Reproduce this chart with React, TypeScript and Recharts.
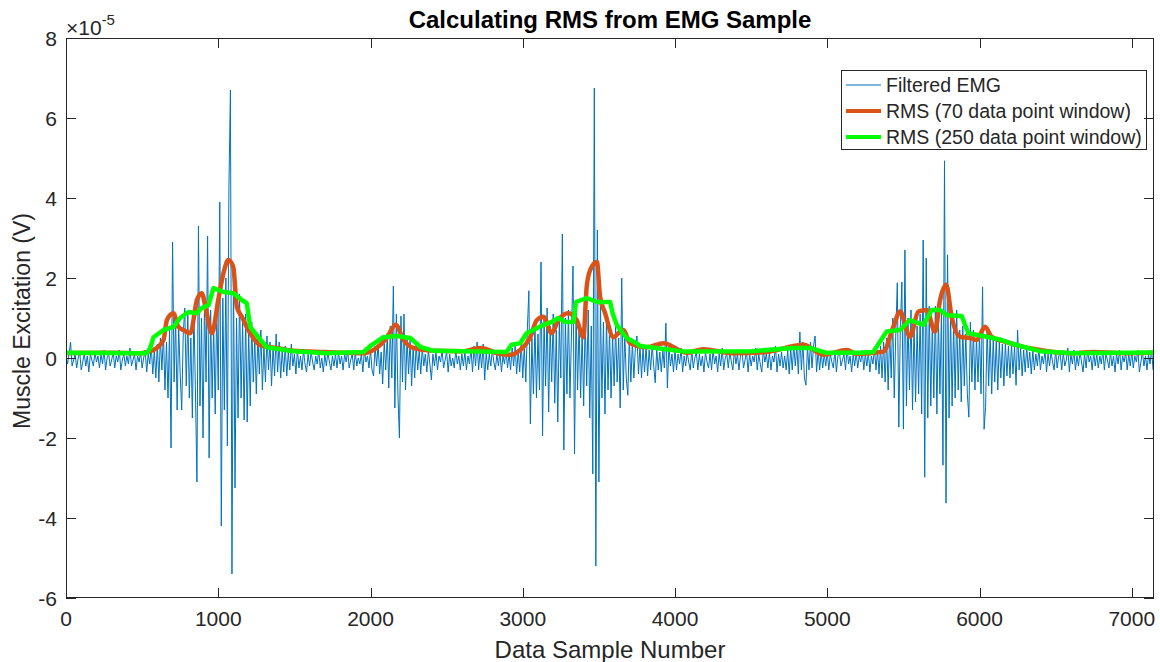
import React from 'react';
import { LineChart, Line, XAxis, YAxis, Legend } from 'recharts';

// Filtered EMG, one value every SAMPLE_STEP samples (units of 1e-5 V)
const SAMPLE_STEP = 10;
const emgValues = [
  0.05, -0.15, 0.1, 0.4, -0.2, -0.05, 0.1, -0.25, 0.0, 0.15, -0.3, -0.1, 0.1, -0.2, 0.05, -0.35, 0.1, -0.05, -0.2, 0.15,
  -0.1, 0.05, -0.25, 0.1, -0.15, 0.2, -0.3, 0.0, 0.1, -0.2, -0.05, 0.15, -0.25, 0.05, -0.1, 0.2, -0.3, -0.05, 0.1, -0.2,
  0.05, -0.15, 0.25, -0.2, -0.05, 0.1, -0.3, 0.05, -0.1, 0.15, -0.25, 0.0, 0.2, -0.35, 0.1, -0.15, 0.3, -0.4, 0.2, -0.5,
  0.35, -0.6, 0.5, -0.3, 0.6, -0.8, 0.4, -1.0, 0.7, -2.25, 2.9, -0.6, 1.0, -1.3, 0.8, -0.4, -1.3, 0.6, 1.25, -0.7,
  1.1, -1.0, 0.5, -1.5, 1.2, -0.8, -3.1, 3.3, -1.2, 1.0, -2.0, 1.5, -0.6, 3.05, -2.5, 1.2, -1.0, 0.8, -1.4, 1.3,
  -0.8, 3.9, -4.2, 1.5, -1.3, 2.0, -2.2, 4.25, 6.7, -5.4, 2.2, -3.25, 1.0, -1.5, 1.6, -1.0, 0.9, -1.55, 1.1, -1.6,
  0.7, -1.2, 0.9, -0.6, 0.5, -0.9, 0.6, -0.4, 0.7, -0.8, 0.3, -0.6, 0.55, -0.3, 0.4, -0.7, 0.3, -0.45, 0.6, -0.35,
  0.4, -0.5, 0.2, -0.35, 0.3, -0.45, 0.15, -0.3, 0.35, -0.2, 0.1, -0.4, 0.2, -0.25, 0.05, -0.3, 0.2, -0.15, -0.35, 0.1,
  -0.2, 0.15, -0.1, -0.3, 0.05, -0.15, 0.2, -0.25, 0.0, -0.35, 0.1, -0.2, 0.15, -0.1, -0.3, 0.05, -0.2, 0.1, -0.25, 0.15,
  -0.15, 0.05, -0.3, 0.1, -0.1, 0.2, -0.25, -0.05, 0.1, -0.3, 0.15, -0.2, 0.0, -0.15, 0.1, -0.35, 0.2, -0.1, 0.05, -0.25,
  0.2, -0.3, -0.45, 0.3, -0.2, 0.35, -0.4, 0.15, -0.65, 0.4, -0.3, 0.6, -0.75, 0.8, -0.5, 1.8, -1.25, 1.1, -0.9, -2.0,
  1.05, -0.6, 1.1, -0.8, 0.5, -0.4, 0.45, -0.7, 0.3, -0.5, 0.35, -0.3, 0.2, -0.4, 0.25, -0.2, 0.1, -0.35, 0.2, -0.15,
  -0.55, 0.1, -0.2, 0.15, -0.3, 0.05, -0.1, 0.2, -0.25, -0.05, 0.15, -0.35, 0.1, -0.2, 0.0, -0.25, 0.2, -0.15, 0.05, -0.3,
  0.1, -0.2, 0.15, -0.3, 0.05, -0.15, 0.25, -0.35, 0.3, -0.2, 0.4, -0.3, 0.2, -0.25, 0.35, -0.55, 0.15, -0.3, 0.1, -0.2,
  0.2, -0.1, -0.3, 0.1, -0.2, 0.15, -0.35, 0.05, -0.15, 0.2, -0.25, 0.1, -0.3, 0.25, -0.2, 0.3, -0.4, 0.2, -0.35, 0.4,
  -0.5, 0.3, -0.6, 0.7, 1.68, -1.65, 0.5, -0.9, 0.9, -1.0, 0.6, -0.8, 2.4, -1.95, 1.0, -0.7, 1.25, -1.35, 0.8, -0.6,
  1.1, -1.13, 0.7, -1.6, 0.9, -0.5, 3.1, -2.3, 1.0, -0.9, 1.2, -1.0, 0.6, 2.3, -2.4, 1.2, -0.8, 0.9, -1.0, 0.7,
  -1.2, 1.0, -0.7, 1.2, -1.5, 0.8, -2.9, 6.75, -5.2, 3.2, -3.1, 1.4, -1.0, 0.9, -1.4, 1.0, -0.8, 0.7, -1.0, 0.6,
  -0.7, 0.8, -0.6, 0.5, -1.25, 2.0, -0.8, 0.6, -0.5, -0.93, 0.5, -0.6, 0.4, -0.5, 0.3, 0.55, -0.4, 0.3, -0.5, 0.25,
  -0.35, 0.3, -0.45, 0.2, -0.3, 0.35, -0.2, -0.62, 0.25, -0.3, 0.15, -0.35, 0.2, -0.25, 0.87, -0.75, 0.3, -0.2, 0.1, -0.35,
  0.2, -0.3, 0.1, -0.15, 0.25, -0.35, 0.05, -0.2, 0.15, -0.1, -0.3, 0.2, -0.25, 0.0, 0.15, -0.3, 0.1, -0.2, 0.05, -0.35,
  0.15, -0.1, -0.25, 0.1, -0.3, 0.2, -0.15, 0.05, -0.35, 0.1, -0.2, 0.25, -0.3, 0.0, 0.1, -0.25, 0.15, -0.1, -0.3, 0.2,
  -0.15, 0.1, -0.3, 0.05, 0.2, -0.25, -0.05, 0.15, -0.35, 0.1, -0.2, 0.05, -0.1, 0.25, -0.3, 0.1, -0.15, -0.35, 0.2, -0.1,
  0.1, -0.25, 0.15, -0.3, 0.05, -0.1, 0.3, -0.35, 0.1, -0.2, 0.15, -0.25, 0.05, -0.3, 0.2, -0.4, 0.25, -0.3, 0.35, -0.2,
  0.3, -0.4, 0.65, -0.3, 0.4, -0.5, -0.68, 0.3, -0.3, 0.4, -0.25, 0.3, 0.55, -0.35, 0.2, -0.3, 0.15, -0.25, 0.1, -0.2,
  0.15, -0.3, 0.1, -0.1, -0.25, 0.2, -0.35, 0.05, 0.15, -0.2, -0.05, 0.1, -0.3, 0.25, -0.15, 0.05, -0.35, 0.1, -0.2, 0.15,
  -0.25, 0.05, -0.1, 0.2, -0.3, 0.1, -0.2, 0.15, -0.35, 0.05, -0.15, 0.25, -0.3, 0.2, -0.4, 0.3, -0.5, 0.4, -0.6, 0.5,
  -0.8, 0.7, -0.5, 1.0, -1.0, 0.6, 1.88, -1.73, 0.8, 1.9, -1.78, 2.7, -1.2, 1.0, -0.8, 1.2, -1.3, 0.9, -1.1, 0.8,
  -0.9, 1.1, -1.4, 2.95, -2.98, 2.5, -1.5, 1.3, -1.2, 0.9, -1.0, 1.3, -1.4, 1.0, -0.9, 1.2, -2.68, 4.93, -3.63, 2.58,
  -1.5, 1.1, -1.2, 0.9, -1.0, 1.2, -0.8, 0.7, -1.1, 0.8, -0.7, 0.6, -0.9, -1.48, 0.9, -0.6, 0.7, -0.8, 0.5, -0.6,
  0.6, -0.9, 1.78, -1.78, -1.23, 0.8, -0.7, 0.6, -0.9, 0.5, -0.6, 0.45, -0.8, 0.4, -0.5, 0.35, -0.7, 0.4, -0.45, 0.3,
  -0.5, 0.35, -0.4, 0.3, -0.68, 0.7, -0.3, 0.25, -0.45, 0.2, -0.35, 0.3, -0.25, 0.15, -0.4, 0.2, -0.3, 0.1, -0.2, 0.25,
  -0.3, 0.05, -0.15, 0.2, -0.35, 0.1, -0.2, 0.15, -0.1, -0.3, 0.2, -0.25, 0.05, 0.1, -0.3, 0.15, -0.2, -0.05, 0.25, -0.35,
  0.1, -0.15, 0.2, -0.3, 0.05, -0.2, 0.15, -0.1, -0.35, 0.1, -0.25, 0.2, -0.1, 0.05, -0.3, 0.15, -0.2, 0.1, -0.25, 0.05,
  -0.15, 0.2, -0.3, 0.1, -0.05, -0.25, 0.15, -0.2, 0.05, -0.35, 0.1, -0.15, 0.2, -0.3, 0.05, -0.1, 0.15, -0.3, 0.1, -0.2,
  0.15, -0.25, 0.05, -0.1, 0.2, -0.35, -0.1, 0.15, -0.2, 0.05, -0.3, 0.1, -0.15, 0.2, -0.3,
];

// RMS, 70 data point window
const rms70Samples = [
  0, 300, 490, 575, 640, 663, 705, 738, 771, 817, 860, 892, 920, 958, 1000, 1033, 1066, 1099, 1122, 1155,
  1210, 1275, 1385, 1493, 1700, 1954, 2040, 2106, 2166, 2217, 2283, 2414, 2600, 2721, 2852, 2917, 2983,
  3049, 3093, 3136, 3190, 3234, 3300, 3354, 3398, 3420, 3443, 3487, 3508, 3541, 3596, 3628, 3661, 3705,
  3815, 3924, 4077, 4186, 4383, 4602, 4843, 4974, 5128, 5193, 5368, 5434, 5478, 5544, 5598, 5653, 5708,
  5741, 5781, 5817, 5872, 5938, 5981, 6036, 6080, 6178, 6244, 6397, 6616, 6747, 6944, 7146,
];
const rms70Values = [
  0.12, 0.13, 0.12, 0.2, 0.45, 0.95, 1.12, 0.78, 0.7, 0.62, 1.45, 1.62, 1.2, 0.62, 1.45, 2.1, 2.45, 2.27, 1.28, 1.03,
  0.62, 0.32, 0.25, 0.18, 0.15, 0.12, 0.25, 0.5, 0.83, 0.45, 0.25, 0.18, 0.17, 0.25, 0.1, 0.08, 0.2,
  0.52, 0.95, 1.03, 0.62, 0.95, 1.12, 0.95, 0.52, 1.78, 2.2, 2.4, 1.53, 1.12, 0.52, 0.62, 0.7, 0.37,
  0.27, 0.37, 0.13, 0.22, 0.12, 0.15, 0.33, 0.08, 0.2, 0.1, 0.16, 0.78, 1.16, 0.53, 1.16, 1.2, 0.66,
  1.45, 1.83, 1.03, 0.53, 0.5, 0.45, 0.78, 0.53, 0.4, 0.32, 0.2, 0.12, 0.15, 0.12, 0.13,
];

// RMS, 250 data point window
const rms250Samples = [
  0, 530, 553, 575, 640, 706, 750, 804, 860, 892, 936, 969, 1035, 1100, 1155, 1187, 1210, 1253, 1318, 1493,
  1714, 1954, 2009, 2085, 2172, 2261, 2327, 2414, 2894, 2926, 2983, 3025, 3070, 3136, 3190, 3234, 3278,
  3333, 3350, 3420, 3487, 3574, 3590, 3617, 3682, 3748, 3771, 4055, 4500, 4777, 4887, 4996, 5215, 5302,
  5390, 5478, 5544, 5631, 5686, 5741, 5785, 5883, 5926, 6047, 6146, 6200, 6397, 6616, 7146,
];
const rms250Values = [
  0.13, 0.12, 0.25, 0.52, 0.7, 0.78, 1.0, 1.15, 1.12, 1.25, 1.32, 1.75, 1.65, 1.62, 1.45, 1.37, 0.78, 0.57, 0.27, 0.17,
  0.12, 0.15, 0.33, 0.52, 0.55, 0.5, 0.28, 0.18, 0.15, 0.33, 0.37, 0.62, 0.7, 0.83, 0.9, 1.0, 0.9,
  0.9, 1.4, 1.5, 1.4, 1.4, 1.12, 0.83, 0.5, 0.37, 0.3, 0.16, 0.17, 0.25, 0.25, 0.13, 0.13, 0.15,
  0.66, 0.7, 0.95, 0.83, 1.2, 1.2, 1.07, 1.05, 0.62, 0.53, 0.45, 0.37, 0.17, 0.12, 0.14,
];

const xTicks = [0, 1000, 2000, 3000, 4000, 5000, 6000, 7000];
const yTicks = [-6, -4, -2, 0, 2, 4, 6, 8];
const X_MAX = 7146;
const Y_MIN = -6;
const Y_MAX = 8;

const seriesNames = ['Filtered EMG', 'RMS (70 data point window)', 'RMS (250 data point window)'];
const seriesColors = ['#0072BD', '#D95319', '#00FF00'];
const legendWidths = [1.2, 4, 4];

const emgData = emgValues.map((v, i) => ({ x: i * SAMPLE_STEP, emg: v }));
const rms70Data = rms70Samples.map((s, i) => ({ x: s, rms70: rms70Values[i] }));
const rms250Data = rms250Samples.map((s, i) => ({ x: s, rms250: rms250Values[i] }));

// layout (page pixels; body margin removed below)
const W = 1160;
const H = 662;
const PLOT = { left: 66, top: 38, right: 1154, bottom: 598 };
const INK = '#262626';
const FONT = '"Liberation Sans", Arial, Helvetica, sans-serif';
const TICK_LEN = 10;

const BottomTick = (props: any) => {
  const { x, y, payload } = props;
  return (
    <text x={x} y={y + 28} textAnchor="middle" fontSize={21} fill={INK} fontFamily={FONT}>
      {payload.value}
    </text>
  );
};

const LeftTick = (props: any) => {
  const { x, y, payload } = props;
  return (
    <text x={x - 9} y={y + 7.5} textAnchor="end" fontSize={21} fill={INK} fontFamily={FONT}>
      {payload.value}
    </text>
  );
};

// MATLAB-style box with inward tick marks on all four sides
const AxesBox = () => {
  const pw = PLOT.right - PLOT.left;
  const ph = PLOT.bottom - PLOT.top;
  const sx = (v: number) => PLOT.left + (v / X_MAX) * pw;
  const sy = (v: number) => PLOT.bottom - ((v - Y_MIN) / (Y_MAX - Y_MIN)) * ph;
  return (
    <svg width={W} height={H} style={{ position: 'absolute', left: 0, top: 0, pointerEvents: 'none' }}>
      <rect
        x={PLOT.left + 0.5}
        y={PLOT.top + 0.5}
        width={pw - 1}
        height={ph - 1}
        fill="none"
        stroke={INK}
        strokeWidth={1}
      />
      {xTicks.map((t) => {
        const x = Math.round(sx(t)) + 0.5;
        return (
          <g key={`x${t}`}>
            <line x1={x} x2={x} y1={PLOT.bottom} y2={PLOT.bottom - TICK_LEN} stroke={INK} />
            <line x1={x} x2={x} y1={PLOT.top} y2={PLOT.top + TICK_LEN} stroke={INK} />
          </g>
        );
      })}
      {yTicks.map((t) => {
        const y = Math.round(sy(t)) + 0.5;
        return (
          <g key={`y${t}`}>
            <line x1={PLOT.left} x2={PLOT.left + TICK_LEN} y1={y} y2={y} stroke={INK} />
            <line x1={PLOT.right} x2={PLOT.right - TICK_LEN} y1={y} y2={y} stroke={INK} />
          </g>
        );
      })}
    </svg>
  );
};

const LegendBox = () => (
  <div
    style={{
      width: 304,
      height: 77,
      border: `1px solid ${INK}`,
      background: '#fff',
      paddingTop: 1,
      boxSizing: 'content-box',
      fontFamily: FONT,
    }}
  >
    {seriesNames.map((name, i) => (
      <div key={name} style={{ height: 26, display: 'flex', alignItems: 'center' }}>
        <svg width={44} height={26} style={{ display: 'block' }}>
          <line x1={4} x2={39} y1={13} y2={13} stroke={seriesColors[i]} strokeWidth={legendWidths[i]} />
        </svg>
        <span style={{ fontSize: 19.5, color: INK, whiteSpace: 'nowrap' }}>{name}</span>
      </div>
    ))}
  </div>
);

export default function App() {
  return (
    <div
      style={{
        position: 'relative',
        width: W,
        height: H,
        overflow: 'hidden',
        fontFamily: FONT,
        background: '#fff',
      }}
    >
      <style>{'html, body { margin: 0; padding: 0; }'}</style>
      <LineChart
        width={W}
        height={H}
        margin={{ top: PLOT.top, right: W - PLOT.right, bottom: 24, left: 0 }}
      >
        <XAxis
          dataKey="x"
          type="number"
          domain={[0, X_MAX]}
          ticks={xTicks}
          allowDataOverflow
          height={H - PLOT.bottom - 24}
          tickSize={0}
          tickMargin={0}
          tickLine={false}
          axisLine={false}
          tick={<BottomTick />}
        />
        <YAxis
          type="number"
          domain={[Y_MIN, Y_MAX]}
          ticks={yTicks}
          allowDataOverflow
          width={PLOT.left}
          tickSize={0}
          tickMargin={0}
          tickLine={false}
          axisLine={false}
          tick={<LeftTick />}
        />
        <Line
          data={emgData}
          dataKey="emg"
          name={seriesNames[0]}
          type="linear"
          stroke={seriesColors[0]}
          strokeWidth={1}
          dot={false}
          activeDot={false}
          isAnimationActive={false}
        />
        <Line
          data={rms70Data}
          dataKey="rms70"
          name={seriesNames[1]}
          type="monotone"
          stroke={seriesColors[1]}
          strokeWidth={4.5}
          dot={false}
          activeDot={false}
          isAnimationActive={false}
        />
        <Line
          data={rms250Data}
          dataKey="rms250"
          name={seriesNames[2]}
          type="linear"
          stroke={seriesColors[2]}
          strokeWidth={4.5}
          strokeLinejoin="round"
          dot={false}
          activeDot={false}
          isAnimationActive={false}
        />
        <Legend
          layout="vertical"
          align="center"
          verticalAlign="middle"
          content={<LegendBox />}
          wrapperStyle={{ left: 841, top: 70, width: 306, height: 79 }}
        />
      </LineChart>

      <AxesBox />

      <div
        style={{
          position: 'absolute',
          left: 0,
          width: PLOT.left + PLOT.right,
          top: 8,
          height: 24,
          lineHeight: '24px',
          textAlign: 'center',
          fontSize: 24,
          fontWeight: 'bold',
          color: '#000',
          whiteSpace: 'nowrap',
        }}
      >
        Calculating RMS from EMG Sample
      </div>

      <div style={{ position: 'absolute', left: 66, top: 10, fontSize: 21, color: INK, whiteSpace: 'nowrap', lineHeight: '24px' }}>
        <span>×10</span>
        <sup style={{ fontSize: 15, position: 'relative', top: -2 }}>-5</sup>
      </div>

      <div
        style={{
          position: 'absolute',
          left: 22 - 200,
          top: 321 - 14,
          width: 400,
          height: 28,
          lineHeight: '28px',
          textAlign: 'center',
          fontSize: 23,
          color: INK,
          transform: 'rotate(-90deg)',
          whiteSpace: 'nowrap',
        }}
      >
        Muscle Excitation (V)
      </div>

      <div
        style={{
          position: 'absolute',
          left: 0,
          width: PLOT.left + PLOT.right,
          top: 636,
          height: 28,
          lineHeight: '28px',
          textAlign: 'center',
          fontSize: 24,
          color: INK,
          whiteSpace: 'nowrap',
        }}
      >
        Data Sample Number
      </div>
    </div>
  );
}
